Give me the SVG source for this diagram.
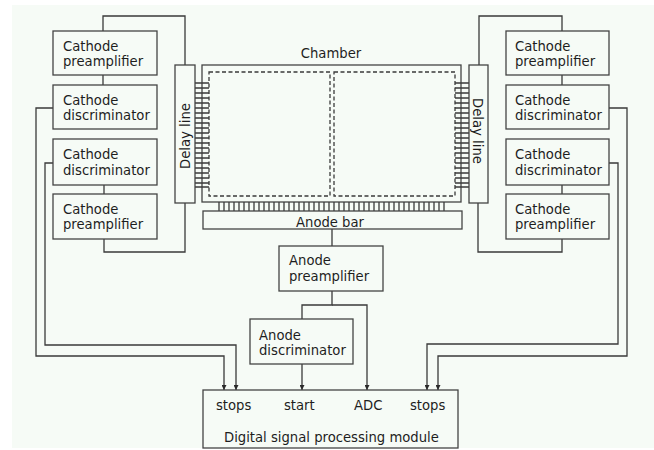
<svg xmlns="http://www.w3.org/2000/svg" width="654" height="450" viewBox="0 0 654 450">
<style>
.bg{fill:#f6fbf6}
.box{fill:#f6fbf6;stroke:#444;stroke-width:1.3}
.ln{fill:none;stroke:#3a3a3a;stroke-width:1.3}
.dash{fill:none;stroke:#3a3a3a;stroke-width:1.3;stroke-dasharray:4 2.5}
text{font-family:"DejaVu Sans",Verdana,sans-serif;font-size:13.2px;fill:#1e1e1e}
.mid{text-anchor:middle}
</style>
<defs>
<marker id="arr" viewBox="0 0 10 10" refX="10" refY="5" markerWidth="5" markerHeight="5" markerUnits="userSpaceOnUse" orient="auto">
<path d="M0,0 L10,5 L0,10 Z" fill="#2a2a2a"/>
</marker>
</defs>
<rect x="0" y="0" width="654" height="450" fill="#ffffff"/>
<rect class="bg" x="12" y="5" width="642" height="443"/>

<g id="connectors">
<path class="ln" d="M103,31 V16 H185 V65"/>
<path class="ln" d="M103,75 V85"/>
<path class="ln" d="M104,185 V194"/>
<path class="ln" d="M104,239 V252 H185 V203"/>
<path class="ln" d="M53,108 H36 V356 H224 V390" marker-end="url(#arr)"/>
<path class="ln" d="M53,163 H45 V345 H236 V390" marker-end="url(#arr)"/>
<path class="ln" d="M479,65 V16 H562 V31"/>
<path class="ln" d="M562,75 V85"/>
<path class="ln" d="M562,185 V194"/>
<path class="ln" d="M562,239 V252 H478 V203"/>
<path class="ln" d="M609,108 H627 V356 H438 V390" marker-end="url(#arr)"/>
<path class="ln" d="M609,163 H618 V344 H427 V390" marker-end="url(#arr)"/>
<path class="ln" d="M332,229 V246"/>
<path class="ln" d="M332,291 V305 H302 V319"/>
<path class="ln" d="M332,305 H367 V390" marker-end="url(#arr)"/>
<path class="ln" d="M302,364 V390" marker-end="url(#arr)"/>
</g>

<g id="chamber">
<rect class="box" x="202" y="65" width="259" height="137"/>
<rect class="dash" x="209" y="72" width="121" height="124"/>
<rect class="dash" x="334" y="72" width="121" height="124"/>
<text class="mid" x="331" y="58">Chamber</text>
<path class="ln" stroke-width="1" d="M195,83H209M195,88H209M195,93H209M195,98H209M195,103H209M195,108H209M195,113H209M195,118H209M195,123H209M195,128H209M195,133H209M195,138H209M195,143H209M195,148H209M195,153H209M195,158H209M195,163H209M195,168H209M195,173H209M195,178H209M195,183H209M195,187H209"/>
<path class="ln" stroke-width="1" d="M455,83H469M455,88H469M455,93H469M455,98H469M455,103H469M455,108H469M455,113H469M455,118H469M455,123H469M455,128H469M455,133H469M455,138H469M455,143H469M455,148H469M455,153H469M455,158H469M455,163H469M455,168H469M455,173H469M455,178H469M455,183H469M455,187H469"/>
<path class="ln" stroke-width="1" d="M219,202V211M224,202V211M229,202V211M234,202V211M239,202V211M244,202V211M249,202V211M254,202V211M259,202V211M264,202V211M269,202V211M274,202V211M279,202V211M284,202V211M289,202V211M294,202V211M299,202V211M304,202V211M309,202V211M314,202V211M319,202V211M324,202V211M329,202V211M334,202V211M339,202V211M344,202V211M349,202V211M354,202V211M359,202V211M364,202V211M369,202V211M374,202V211M379,202V211M384,202V211M389,202V211M394,202V211M399,202V211M404,202V211M409,202V211M414,202V211M419,202V211M424,202V211M429,202V211M434,202V211M439,202V211M444,202V211"/>
</g>

<g id="delay-left">
<rect class="box" x="175" y="65" width="20" height="138"/>
<text class="mid" transform="translate(190,136) rotate(-90)">Delay line</text>
</g>
<g id="delay-right">
<rect class="box" x="469" y="65" width="19" height="138"/>
<text class="mid" transform="translate(473,131) rotate(90)">Delay line</text>
</g>

<g id="anode-bar">
<rect class="box" x="203" y="211" width="259" height="18"/>
<text class="mid" x="330" y="227">Anode bar</text>
</g>

<g id="left-preamp-1">
<rect class="box" x="53" y="31" width="104" height="44"/>
<text x="63" y="51">Cathode</text><text x="63" y="66">preamplifier</text>
</g>
<g id="left-disc-1">
<rect class="box" x="53" y="85" width="104" height="44"/>
<text x="63" y="105">Cathode</text><text x="63" y="120">discriminator</text>
</g>
<g id="left-disc-2">
<rect class="box" x="53" y="139" width="104" height="46"/>
<text x="63" y="159">Cathode</text><text x="63" y="175">discriminator</text>
</g>
<g id="left-preamp-2">
<rect class="box" x="53" y="194" width="104" height="45"/>
<text x="63" y="214">Cathode</text><text x="63" y="229">preamplifier</text>
</g>

<g id="right-preamp-1">
<rect class="box" x="506" y="31" width="103" height="44"/>
<text x="515" y="51">Cathode</text><text x="515" y="66">preamplifier</text>
</g>
<g id="right-disc-1">
<rect class="box" x="506" y="85" width="103" height="44"/>
<text x="515" y="105">Cathode</text><text x="515" y="120">discriminator</text>
</g>
<g id="right-disc-2">
<rect class="box" x="506" y="139" width="103" height="46"/>
<text x="515" y="159">Cathode</text><text x="515" y="175">discriminator</text>
</g>
<g id="right-preamp-2">
<rect class="box" x="506" y="194" width="103" height="45"/>
<text x="515" y="214">Cathode</text><text x="515" y="229">preamplifier</text>
</g>

<g id="anode-preamp">
<rect class="box" x="279" y="246" width="104" height="45"/>
<text x="289" y="265">Anode</text><text x="289" y="281">preamplifier</text>
</g>
<g id="anode-disc">
<rect class="box" x="250" y="319" width="103" height="45"/>
<text x="259" y="340">Anode</text><text x="259" y="355">discriminator</text>
</g>

<g id="dsp">
<rect class="box" x="203" y="390" width="255" height="58"/>
<text x="216" y="410">stops</text>
<text x="284" y="410">start</text>
<text x="354" y="410">ADC</text>
<text x="410" y="410">stops</text>
<text x="224" y="442">Digital signal processing module</text>
</g>
</svg>
